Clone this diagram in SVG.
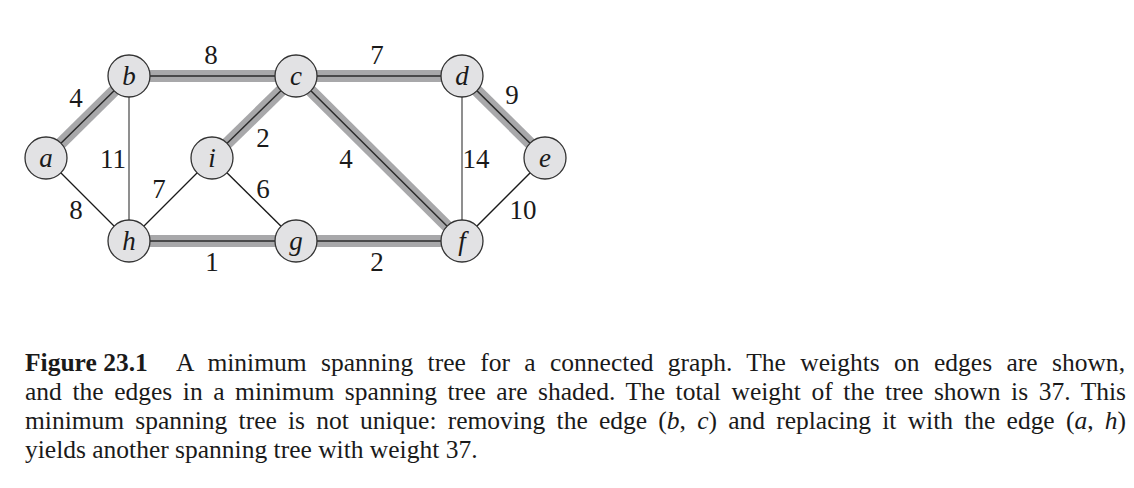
<svg xmlns="http://www.w3.org/2000/svg" width="1134" height="488" viewBox="0 0 1134 488">
<style>
.band{stroke:#a8a8aa;stroke-width:12;stroke-linecap:butt;fill:none}
.core{stroke:#2a2a2a;stroke-width:1.5;fill:none}
.thin{stroke:#1a1a1a;stroke-width:1.3;fill:none}
.grey{stroke:#6a6a6a;stroke-width:1.5;fill:none}
.node circle{fill:#e2e2e4;stroke:#333;stroke-width:1.3}
.node text{font-family:"Liberation Serif","Times New Roman",serif;font-style:italic;font-size:27px;fill:#1a1a1a;text-anchor:middle}
.w{font-family:"Liberation Serif","Times New Roman",serif;font-size:27px;fill:#1a1a1a;text-anchor:middle}
.cap{font-family:"Liberation Serif","Times New Roman",serif;font-size:25.5px;fill:#1a1a1a}
.it{font-style:italic}
</style>
<rect width="1134" height="488" fill="#ffffff"/>
<g id="connectors">
  <line class="thin" x1="46" y1="158" x2="129" y2="241"/>
  <line class="grey" x1="129" y1="76" x2="129" y2="241"/>
  <line class="thin" x1="129" y1="241" x2="212" y2="158"/>
  <line class="thin" x1="212" y1="158" x2="296" y2="241"/>
  <line class="grey" x1="462" y1="76" x2="462" y2="241"/>
  <line class="thin" x1="545" y1="158" x2="462" y2="241"/>
  <line class="band" x1="46" y1="158" x2="129" y2="76"/>
  <line class="core" x1="46" y1="158" x2="129" y2="76"/>
  <line class="band" x1="129" y1="76" x2="296" y2="76"/>
  <line class="core" x1="129" y1="76" x2="296" y2="76"/>
  <line class="band" x1="296" y1="76" x2="462" y2="76"/>
  <line class="core" x1="296" y1="76" x2="462" y2="76"/>
  <line class="band" x1="462" y1="76" x2="545" y2="158"/>
  <line class="core" x1="462" y1="76" x2="545" y2="158"/>
  <line class="band" x1="296" y1="76" x2="212" y2="158"/>
  <line class="core" x1="296" y1="76" x2="212" y2="158"/>
  <line class="band" x1="296" y1="76" x2="462" y2="241"/>
  <line class="core" x1="296" y1="76" x2="462" y2="241"/>
  <line class="band" x1="129" y1="241" x2="296" y2="241"/>
  <line class="core" x1="129" y1="241" x2="296" y2="241"/>
  <line class="band" x1="296" y1="241" x2="462" y2="241"/>
  <line class="core" x1="296" y1="241" x2="462" y2="241"/>
  <text class="w" x="76" y="107">4</text>
  <text class="w" x="211" y="64">8</text>
  <text class="w" x="377" y="64">7</text>
  <text class="w" x="512" y="104">9</text>
  <text class="w" x="263" y="147">2</text>
  <text class="w" x="113" y="168">11</text>
  <text class="w" x="346" y="168">4</text>
  <text class="w" x="476" y="168">14</text>
  <text class="w" x="159" y="198">7</text>
  <text class="w" x="263" y="198">6</text>
  <text class="w" x="76" y="219">8</text>
  <text class="w" x="523" y="219">10</text>
  <text class="w" x="212" y="271">1</text>
  <text class="w" x="377" y="271">2</text>
</g>
<g id="node-a" class="node"><circle cx="46" cy="158" r="21"/><text x="46" y="167">a</text></g>
<g id="node-b" class="node"><circle cx="129" cy="76" r="21"/><text x="129" y="85">b</text></g>
<g id="node-c" class="node"><circle cx="296" cy="76" r="21"/><text x="296" y="85">c</text></g>
<g id="node-d" class="node"><circle cx="462" cy="76" r="21"/><text x="462" y="85">d</text></g>
<g id="node-e" class="node"><circle cx="545" cy="158" r="21"/><text x="545" y="167">e</text></g>
<g id="node-i" class="node"><circle cx="212" cy="158" r="21"/><text x="212" y="167">i</text></g>
<g id="node-h" class="node"><circle cx="129" cy="241" r="21"/><text x="129" y="250">h</text></g>
<g id="node-g" class="node"><circle cx="296" cy="241" r="21"/><text x="296" y="250">g</text></g>
<g id="node-f" class="node"><circle cx="462" cy="241" r="21"/><text x="462" y="250">f</text></g>
<g id="caption">
  <text class="cap" x="25" y="371" font-weight="bold">Figure 23.1</text>
  <text class="cap" x="176" y="371" word-spacing="8" textLength="949" lengthAdjust="spacing">A minimum spanning tree for a connected graph. The weights on edges are shown,</text>
  <text class="cap" x="25" y="400" word-spacing="4.2" textLength="1101" lengthAdjust="spacing">and the edges in a minimum spanning tree are shaded. The total weight of the tree shown is 37. This</text>
  <text class="cap" x="25" y="429" word-spacing="4.9" textLength="1101" lengthAdjust="spacing">minimum spanning tree is not unique: removing the edge (<tspan class="it">b</tspan>, <tspan class="it">c</tspan>) and replacing it with the edge (<tspan class="it">a</tspan>, <tspan class="it">h</tspan>)</text>
  <text class="cap" x="25" y="458">yields another spanning tree with weight 37.</text>
</g>
</svg>
